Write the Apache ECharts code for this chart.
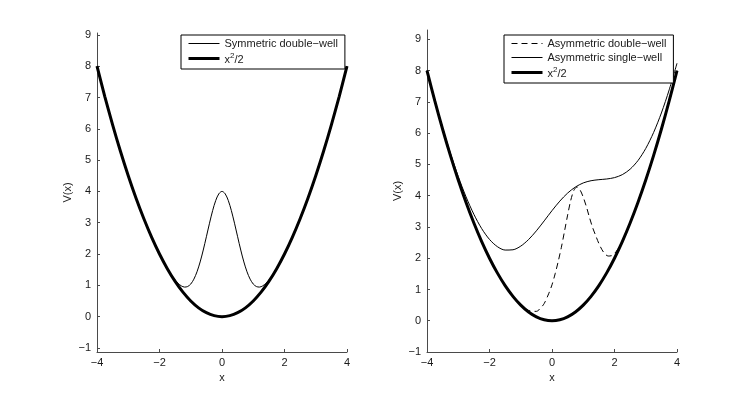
<!DOCTYPE html>
<html>
<head>
<meta charset="utf-8">
<script src="https://cdn.jsdelivr.net/npm/echarts@6/dist/echarts.min.js"></script>
<style>
html, body { margin: 0; padding: 0; background: #fff; }
#main { width: 747px; height: 397px; }
</style>
</head>
<body>
<div id="main"></div>
<script>
// tick labels
var xTicks = [-4, -2, 0, 2, 4];
var yTicks = [-1, 0, 1, 2, 3, 4, 5, 6, 7, 8, 9];

// series names (MATLAB draws '-' as a minus sign)
var NAME_SYM = 'Symmetric double\u2212well';
var NAME_ADW = 'Asymmetric double\u2212well';
var NAME_ASW = 'Asymmetric single\u2212well';
var NAME_PAR = 'x\u00b2/2';

// x^2/2
var parabolaX = [-4, -3.75, -3.5, -3.25, -3, -2.75, -2.5, -2.25, -2, -1.75, -1.5, -1.25, -1, -0.75, -0.5, -0.25, 0,
	0.25, 0.5, 0.75, 1, 1.25, 1.5, 1.75, 2, 2.25, 2.5, 2.75, 3, 3.25, 3.5, 3.75, 4];
var parabolaY = [8, 7.031, 6.125, 5.281, 4.5, 3.781, 3.125, 2.531, 2, 1.531, 1.125, 0.781, 0.5, 0.281, 0.125, 0.031, 0,
	0.031, 0.125, 0.281, 0.5, 0.781, 1.125, 1.531, 2, 2.531, 3.125, 3.781, 4.5, 5.281, 6.125, 7.031, 8];

// symmetric double-well (left panel)
var symX = [-4, -3.75, -3.5, -3.25, -3, -2.75, -2.5, -2.25, -2, -1.9, -1.8, -1.7, -1.6, -1.5, -1.4, -1.3, -1.2, -1.1, -1,
	-0.9, -0.8, -0.7, -0.6, -0.5, -0.4, -0.3, -0.2, -0.1, 0, 0.1, 0.2, 0.3, 0.4, 0.5, 0.6, 0.7, 0.8, 0.9,
	1, 1.1, 1.2, 1.3, 1.4, 1.5, 1.6, 1.7, 1.8, 1.9, 2, 2.25, 2.5, 2.75, 3, 3.25, 3.5, 3.75, 4];
var symY = [8, 7.031, 6.125, 5.281, 4.5, 3.781, 3.125, 2.531, 2.001, 1.808, 1.626, 1.457, 1.304, 1.169, 1.059, 0.981, 0.944, 0.961, 1.041,
	1.197, 1.432, 1.746, 2.127, 2.551, 2.984, 3.386, 3.712, 3.926, 4, 3.926, 3.712, 3.386, 2.984, 2.551, 2.127, 1.746, 1.432, 1.197,
	1.041, 0.961, 0.944, 0.981, 1.059, 1.169, 1.304, 1.457, 1.626, 1.808, 2.001, 2.531, 3.125, 3.781, 4.5, 5.281, 6.125, 7.031, 8];

// asymmetric double-well (right panel, dashed)
var asymDoubleX = [-4, -3.75, -3.5, -3.25, -3, -2.75, -2.5, -2.25, -2, -1.75, -1.5, -1.25, -1, -0.75, -0.5, -0.37, -0.25, -0.1,
	0, 0.1, 0.2, 0.3, 0.4, 0.5, 0.6, 0.7, 0.8, 0.9, 1, 1.1, 1.2, 1.3, 1.4, 1.5, 1.6, 1.7, 1.8, 1.9, 2, 2.1,
	2.25, 2.5, 2.75, 3, 3.25, 3.5, 3.75, 4];
var asymDoubleY = [8, 7.031, 6.125, 5.281, 4.5, 3.781, 3.125, 2.531, 2, 1.531, 1.125, 0.782, 0.51, 0.33, 0.3, 0.4, 0.55, 0.88,
	1.15, 1.5, 1.9, 2.35, 2.86, 3.38, 3.85, 4.17, 4.28, 4.18, 3.95, 3.65, 3.3, 2.98, 2.72, 2.47, 2.27, 2.13, 2.07, 2.08, 2.15, 2.28,
	2.55, 3.125, 3.781, 4.5, 5.281, 6.125, 7.031, 8];

// asymmetric single-well (right panel, thin)
var asymSingleX = [-4, -3.75, -3.5, -3.25, -3, -2.75, -2.5, -2.25, -2, -1.75, -1.5, -1.25, -1, -0.75, -0.5, -0.25, 0,
	0.25, 0.5, 0.75, 1, 1.25, 1.5, 1.75, 2, 2.25, 2.5, 2.75, 3, 3.25, 3.5, 3.75, 4];
var asymSingleY = [8.013, 7.06, 6.166, 5.36, 4.614, 3.962, 3.404, 2.947, 2.601, 2.371, 2.261, 2.27, 2.387, 2.597, 2.876, 3.194, 3.522,
	3.826, 4.084, 4.278, 4.408, 4.479, 4.512, 4.534, 4.578, 4.673, 4.848, 5.122, 5.511, 6.019, 6.646, 7.387, 8.236];

function zip(xs, ys) {
	var out = [];
	for (var i = 0; i < xs.length; i++) {
		out.push([xs[i], ys[i]]);
	}
	return out;
}

var FONT = 'Liberation Sans';
var TEXT = '#1a1a1a';
var AXIS = '#4a4a4a';

function minus(v) {
	return String(v).replace('-', '\u2212');
}

function makeX(gridIndex) {
	return {
		type: 'value',
		gridIndex: gridIndex,
		min: -4,
		max: 4,
		name: 'x',
		nameLocation: 'middle',
		nameGap: 19,
		nameTextStyle: { color: TEXT, fontSize: 11, fontFamily: FONT },
		splitLine: { show: false },
		axisLine: { onZero: false, lineStyle: { color: AXIS, width: 1 } },
		axisTick: { inside: true, length: 3, customValues: xTicks, lineStyle: { color: AXIS } },
		axisLabel: { customValues: xTicks, margin: 5, color: TEXT, fontSize: 11, fontFamily: FONT, formatter: minus }
	};
}

function makeY(gridIndex, min, max) {
	return {
		type: 'value',
		gridIndex: gridIndex,
		min: min,
		max: max,
		name: 'V(x)',
		nameLocation: 'middle',
		nameRotate: 90,
		nameGap: 24,
		nameTextStyle: { color: TEXT, fontSize: 11, fontFamily: FONT },
		splitLine: { show: false },
		axisLine: { show: true, onZero: false, lineStyle: { color: AXIS, width: 1 } },
		axisTick: { show: true, inside: true, length: 3, customValues: yTicks, lineStyle: { color: AXIS } },
		axisLabel: { customValues: yTicks, margin: 6, color: TEXT, fontSize: 11, fontFamily: FONT, formatter: minus }
	};
}

function legendBox(left, names) {
	return {
		data: names,
		left: left,
		top: 35,
		orient: 'vertical',
		align: 'left',
		itemWidth: 31,
		itemHeight: 12,
		itemGap: 3,
		padding: [3, 7, 4, 6],
		borderColor: '#000',
		borderWidth: 1,
		backgroundColor: '#fff',
		selectedMode: false,
		itemStyle: { opacity: 0 },
		lineStyle: { width: 'inherit', type: 'inherit' },
		formatter: function (name) {
			if (name === NAME_PAR) {
				return '{t|x}{s|2}{t|/2}';
			}
			return '{t|' + name + '}';
		},
		textStyle: {
			color: TEXT, fontSize: 11, fontFamily: FONT,
			rich: {
				t: { color: TEXT, fontSize: 11, fontFamily: FONT, verticalAlign: 'bottom' },
				s: { color: TEXT, fontSize: 8, fontFamily: FONT, verticalAlign: 'bottom', padding: [0, 0, 5, 0] }
			}
		}
	};
}

var thin = { color: '#000', width: 1 };
var thick = { color: '#000', width: 3 };

var myChart = echarts.init(document.getElementById('main'), null, { renderer: 'canvas' });

myChart.setOption({
	backgroundColor: '#fff',
	animation: false,
	color: ['#000'],
	grid: [
		{ left: 97, top: 33, width: 250, height: 319 },
		{ left: 427, top: 30, width: 250, height: 322 }
	],
	xAxis: [makeX(0), makeX(1)],
	yAxis: [makeY(0, -1.13, 9.06), makeY(1, -1, 9.3)],
	legend: [
		legendBox(181, [NAME_SYM, NAME_PAR]),
		legendBox(504, [NAME_ADW, NAME_ASW, NAME_PAR])
	],
	series: [
		{
			name: NAME_SYM, type: 'line', xAxisIndex: 0, yAxisIndex: 0,
			data: zip(symX, symY), symbol: 'none', smooth: 0.3, lineStyle: thin
		},
		{
			name: NAME_PAR, type: 'line', xAxisIndex: 0, yAxisIndex: 0,
			data: zip(parabolaX, parabolaY), symbol: 'none', smooth: 0.3, lineStyle: thick
		},
		{
			name: NAME_ADW, type: 'line', xAxisIndex: 1, yAxisIndex: 1,
			data: zip(asymDoubleX, asymDoubleY), symbol: 'none', smooth: 0.3,
			lineStyle: { color: '#000', width: 1, type: [6, 4] }
		},
		{
			name: NAME_ASW, type: 'line', xAxisIndex: 1, yAxisIndex: 1,
			data: zip(asymSingleX, asymSingleY), symbol: 'none', smooth: 0.3, lineStyle: thin
		},
		{
			name: NAME_PAR, type: 'line', xAxisIndex: 1, yAxisIndex: 1,
			data: zip(parabolaX, parabolaY), symbol: 'none', smooth: 0.3, lineStyle: thick
		}
	]
});
</script>
</body>
</html>
